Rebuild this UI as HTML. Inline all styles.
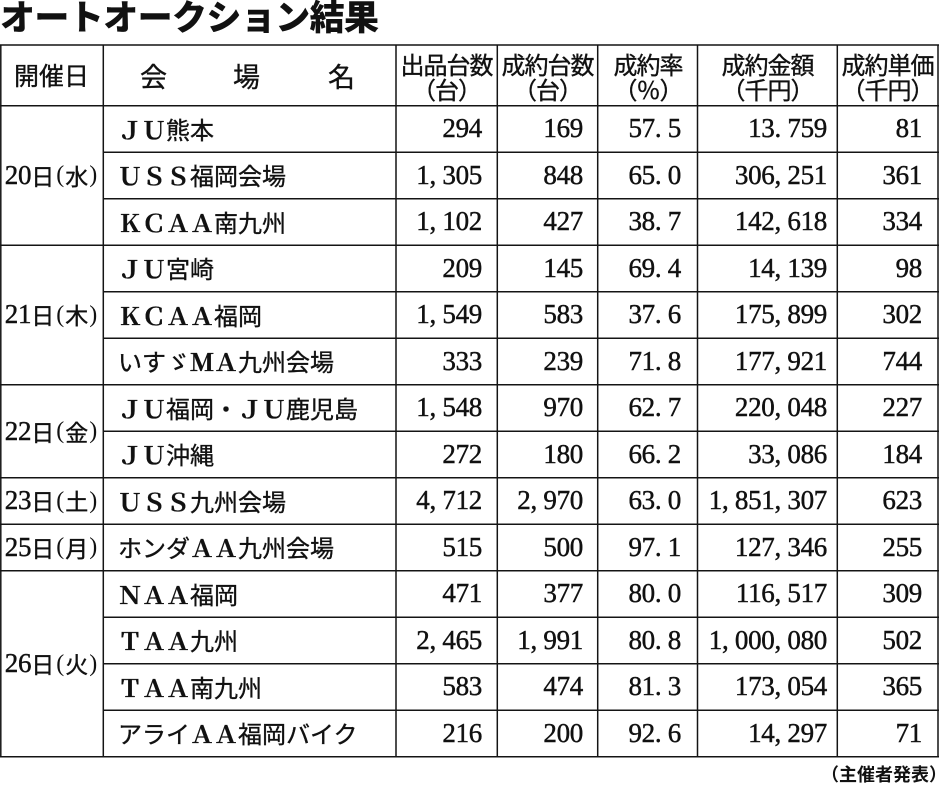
<!DOCTYPE html>
<html><head><meta charset="utf-8">
<style>
html,body{margin:0;padding:0;background:#fff;}
body{width:939px;height:784px;position:relative;overflow:hidden;font-family:"Liberation Sans","Noto Sans CJK JP",sans-serif;color:#111;}
svg.g{position:absolute;left:0;top:0;}
.title{position:absolute;left:0;top:-2px;font-family:"Noto Sans CJK JP",sans-serif;font-size:35px;line-height:35px;font-weight:900;letter-spacing:-0.6px;white-space:nowrap;}
.foot{position:absolute;right:-8px;top:765px;font-family:"Noto Sans CJK JP",sans-serif;font-size:18px;line-height:18px;font-weight:bold;white-space:nowrap;}
.r{position:absolute;left:0;width:939px;height:46.5px;}
.a{position:absolute;top:0;height:100%;display:flex;align-items:center;white-space:nowrap;box-sizing:border-box;}
.n{font-family:"Liberation Serif","Noto Serif CJK SC",serif;font-size:27px;line-height:27px;justify-content:flex-end;letter-spacing:-0.3px;-webkit-text-stroke:0.45px #111;}
.c2{left:103px;width:293px;padding-left:15px;font-family:"Noto Sans CJK JP",sans-serif;font-size:24px;line-height:24px;-webkit-text-stroke:0.35px #111;}
.c3{left:396px;width:101px;padding-right:15px;}
.c4{left:497px;width:101px;padding-right:15px;}
.c5{left:598px;width:100px;padding-right:17px;}
.c6{left:698px;width:139px;padding-right:10px;}
.c7{left:837px;width:101px;padding-right:16px;}
.l{font-family:"Noto Serif CJK SC",serif;font-weight:bold;}
.d{position:absolute;left:0;width:103px;display:flex;align-items:center;justify-content:center;white-space:nowrap;}
.dn{font-family:"Liberation Serif",serif;font-size:27px;line-height:27px;letter-spacing:-0.3px;-webkit-text-stroke:0.45px #111;}
.dk{font-family:"Noto Sans CJK JP",sans-serif;font-size:23px;line-height:23px;-webkit-text-stroke:0.35px #111;}
.dp{font-family:"Liberation Serif",serif;font-size:24px;line-height:24px;margin:0 1px;}
.dp1{margin-left:2px;}
.h{position:absolute;top:45px;height:61px;display:flex;flex-direction:column;align-items:center;justify-content:center;font-family:"Noto Sans CJK JP",sans-serif;font-size:24px;line-height:25px;letter-spacing:-1px;white-space:nowrap;-webkit-text-stroke:0.35px #111;}
.hk{position:absolute;top:62px;font-family:"Noto Sans CJK JP",sans-serif;font-size:27px;line-height:27px;-webkit-text-stroke:0.35px #111;}
</style></head>
<body>
<div class="title">オートオークション結果</div>

<svg class="g" width="939" height="784" xmlns="http://www.w3.org/2000/svg">
<g stroke="#141414" stroke-width="1.5" fill="none">
<line x1="0" y1="45" x2="939" y2="45"/>
<line x1="0" y1="756.7" x2="939" y2="756.7"/>
<line x1="0.8" y1="45" x2="0.8" y2="756.7"/>
<line x1="938" y1="45" x2="938" y2="756.7"/>
<line x1="103.3" y1="45" x2="103.3" y2="756.7"/>
<line x1="396" y1="45" x2="396" y2="756.7"/>
<line x1="497.3" y1="45" x2="497.3" y2="756.7"/>
<line x1="597.7" y1="45" x2="597.7" y2="756.7"/>
<line x1="697.5" y1="45" x2="697.5" y2="756.7"/>
<line x1="837.3" y1="45" x2="837.3" y2="756.7"/>
<line x1="0" y1="105.7" x2="939" y2="105.7"/>
<line x1="0" y1="245.2" x2="939" y2="245.2"/>
<line x1="0" y1="384.7" x2="939" y2="384.7"/>
<line x1="0" y1="477.7" x2="939" y2="477.7"/>
<line x1="0" y1="524.2" x2="939" y2="524.2"/>
<line x1="0" y1="570.7" x2="939" y2="570.7"/>
<line x1="103.3" y1="152.2" x2="939" y2="152.2"/>
<line x1="103.3" y1="198.7" x2="939" y2="198.7"/>
<line x1="103.3" y1="291.7" x2="939" y2="291.7"/>
<line x1="103.3" y1="338.2" x2="939" y2="338.2"/>
<line x1="103.3" y1="431.2" x2="939" y2="431.2"/>
<line x1="103.3" y1="617.2" x2="939" y2="617.2"/>
<line x1="103.3" y1="663.7" x2="939" y2="663.7"/>
<line x1="103.3" y1="710.2" x2="939" y2="710.2"/>
</g>
</svg>

<div class="d" style="top:45px;height:61px;"><span style="font-family:'Noto Sans CJK JP',sans-serif;font-size:25px;line-height:25px;-webkit-text-stroke:0.35px #111;">開催日</span></div>
<span class="hk" style="left:140px;">会</span>
<span class="hk" style="left:233px;">場</span>
<span class="hk" style="left:328px;">名</span>
<div class="h" style="left:396px;width:101px;"><span>出品台数</span><span>（台）</span></div>
<div class="h" style="left:497px;width:101px;"><span>成約台数</span><span>（台）</span></div>
<div class="h" style="left:598px;width:100px;"><span>成約率</span><span>（％）</span></div>
<div class="h" style="left:698px;width:139px;"><span>成約金額</span><span>（千円）</span></div>
<div class="h" style="left:837px;width:101px;"><span>成約単価</span><span>（千円）</span></div>

<div class="d" style="top:105.7px;height:139.5px;"><span class="dn">20</span><span class="dk">日</span><span class="dp dp1">(</span><span class="dk">水</span><span class="dp">)</span></div>
<div class="d" style="top:245.2px;height:139.5px;"><span class="dn">21</span><span class="dk">日</span><span class="dp dp1">(</span><span class="dk">木</span><span class="dp">)</span></div>
<div class="d" style="top:384.7px;height:93px;"><span class="dn">22</span><span class="dk">日</span><span class="dp dp1">(</span><span class="dk">金</span><span class="dp">)</span></div>
<div class="d" style="top:477.7px;height:46.5px;"><span class="dn">23</span><span class="dk">日</span><span class="dp dp1">(</span><span class="dk">土</span><span class="dp">)</span></div>
<div class="d" style="top:524.2px;height:46.5px;"><span class="dn">25</span><span class="dk">日</span><span class="dp dp1">(</span><span class="dk">月</span><span class="dp">)</span></div>
<div class="d" style="top:570.7px;height:186px;"><span class="dn">26</span><span class="dk">日</span><span class="dp dp1">(</span><span class="dk">火</span><span class="dp">)</span></div>

<div class="r" style="top:105.7px;"><div class="a c2"><span class="l">ＪＵ</span>熊本</div><div class="a n c3">294</div><div class="a n c4">169</div><div class="a n c5">57. 5</div><div class="a n c6">13. 759</div><div class="a n c7">81</div></div>
<div class="r" style="top:152.2px;"><div class="a c2"><span class="l">ＵＳＳ</span>福岡会場</div><div class="a n c3">1, 305</div><div class="a n c4">848</div><div class="a n c5">65. 0</div><div class="a n c6">306, 251</div><div class="a n c7">361</div></div>
<div class="r" style="top:198.7px;"><div class="a c2"><span class="l">ＫＣＡＡ</span>南九州</div><div class="a n c3">1, 102</div><div class="a n c4">427</div><div class="a n c5">38. 7</div><div class="a n c6">142, 618</div><div class="a n c7">334</div></div>
<div class="r" style="top:245.2px;"><div class="a c2"><span class="l">ＪＵ</span>宮崎</div><div class="a n c3">209</div><div class="a n c4">145</div><div class="a n c5">69. 4</div><div class="a n c6">14, 139</div><div class="a n c7">98</div></div>
<div class="r" style="top:291.7px;"><div class="a c2"><span class="l">ＫＣＡＡ</span>福岡</div><div class="a n c3">1, 549</div><div class="a n c4">583</div><div class="a n c5">37. 6</div><div class="a n c6">175, 899</div><div class="a n c7">302</div></div>
<div class="r" style="top:338.2px;"><div class="a c2">いすゞ<span class="l">ＭＡ</span>九州会場</div><div class="a n c3">333</div><div class="a n c4">239</div><div class="a n c5">71. 8</div><div class="a n c6">177, 921</div><div class="a n c7">744</div></div>
<div class="r" style="top:384.7px;"><div class="a c2"><span class="l">ＪＵ</span>福岡・<span class="l">ＪＵ</span>鹿児島</div><div class="a n c3">1, 548</div><div class="a n c4">970</div><div class="a n c5">62. 7</div><div class="a n c6">220, 048</div><div class="a n c7">227</div></div>
<div class="r" style="top:431.2px;"><div class="a c2"><span class="l">ＪＵ</span>沖縄</div><div class="a n c3">272</div><div class="a n c4">180</div><div class="a n c5">66. 2</div><div class="a n c6">33, 086</div><div class="a n c7">184</div></div>
<div class="r" style="top:477.7px;"><div class="a c2"><span class="l">ＵＳＳ</span>九州会場</div><div class="a n c3">4, 712</div><div class="a n c4">2, 970</div><div class="a n c5">63. 0</div><div class="a n c6">1, 851, 307</div><div class="a n c7">623</div></div>
<div class="r" style="top:524.2px;"><div class="a c2">ホンダ<span class="l">ＡＡ</span>九州会場</div><div class="a n c3">515</div><div class="a n c4">500</div><div class="a n c5">97. 1</div><div class="a n c6">127, 346</div><div class="a n c7">255</div></div>
<div class="r" style="top:570.7px;"><div class="a c2"><span class="l">ＮＡＡ</span>福岡</div><div class="a n c3">471</div><div class="a n c4">377</div><div class="a n c5">80. 0</div><div class="a n c6">116, 517</div><div class="a n c7">309</div></div>
<div class="r" style="top:617.2px;"><div class="a c2"><span class="l">ＴＡＡ</span>九州</div><div class="a n c3">2, 465</div><div class="a n c4">1, 991</div><div class="a n c5">80. 8</div><div class="a n c6">1, 000, 080</div><div class="a n c7">502</div></div>
<div class="r" style="top:663.7px;"><div class="a c2"><span class="l">ＴＡＡ</span>南九州</div><div class="a n c3">583</div><div class="a n c4">474</div><div class="a n c5">81. 3</div><div class="a n c6">173, 054</div><div class="a n c7">365</div></div>
<div class="r" style="top:710.2px;"><div class="a c2">アライ<span class="l">ＡＡ</span>福岡バイク</div><div class="a n c3">216</div><div class="a n c4">200</div><div class="a n c5">92. 6</div><div class="a n c6">14, 297</div><div class="a n c7">71</div></div>

<div class="foot">（主催者発表）</div>
</body></html>
